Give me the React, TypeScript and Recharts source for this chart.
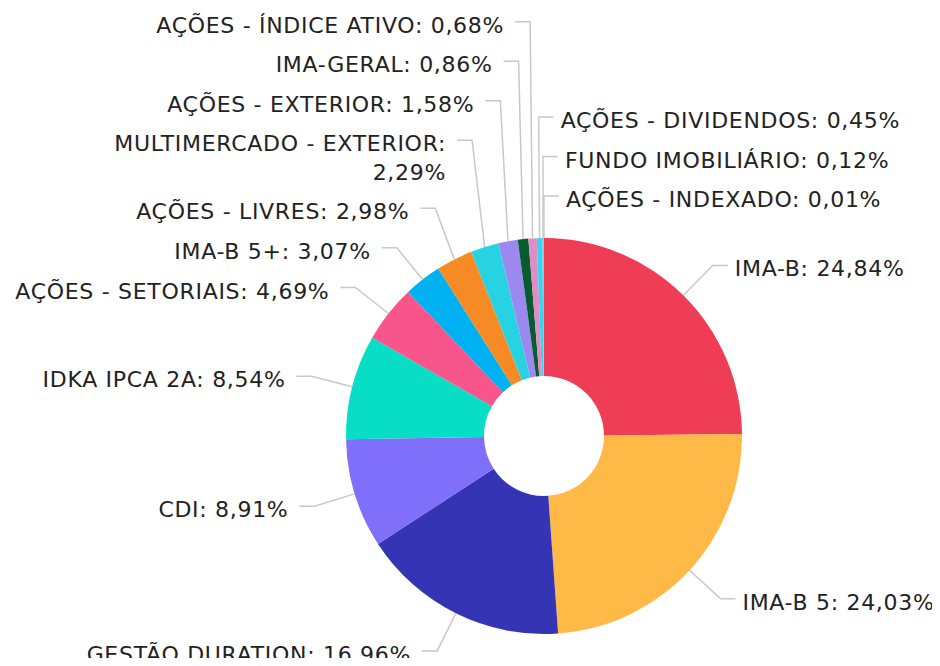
import React from 'react';
import { PieChart, Pie, Cell } from 'recharts';

// allocation by fund class, in percent
const categories = [
  'IMA-B',
  'IMA-B 5',
  'GESTÃO DURATION',
  'CDI',
  'IDKA IPCA 2A',
  'AÇÕES - SETORIAIS',
  'IMA-B 5+',
  'AÇÕES - LIVRES',
  'MULTIMERCADO - EXTERIOR',
  'AÇÕES - EXTERIOR',
  'IMA-GERAL',
  'AÇÕES - ÍNDICE ATIVO',
  'AÇÕES - DIVIDENDOS',
  'FUNDO IMOBILIÁRIO',
  'AÇÕES - INDEXADO',
];
const shares = [24.84, 24.03, 16.96, 8.91, 8.54, 4.69, 3.07, 2.98, 2.29, 1.58, 0.86, 0.68, 0.45, 0.12, 0.01];
const colors = [
  '#ee3d55', '#ffb946', '#3434b5', '#7f6ffa', '#08dec5', '#f7558b', '#00b1f1', '#f68b25',
  '#27d3e3', '#9c89ef', '#085c2f', '#e08dc4', '#34d5f0', '#5fc9f3', '#ffb946',
];

const rows = categories.map((name, i) => ({ name, value: shares[i] }));

const W = 924;
const H = 650;
const CX = 536;
const CY = 428;
const R_OUT = 198;
const R_IN = 60;
const LEN = 42; // radial leg of the label line
const LEN2 = 15; // horizontal leg
const FONT_SIZE = 22;
const LETTER = 0.7;
const LINE_H = 28.5;
const GAP = 39.5; // vertical room taken by one label line
const TOP = -6; // near the page top, in chart coordinates
const MAX_W = 380;
const RAD = Math.PI / 180;

const fmt = (v: number) => v.toFixed(2).replace('.', ',') + '%';

let ctx: CanvasRenderingContext2D | null = null;
const measure = (s: string) => {
  if (!ctx) {
    ctx = document.createElement('canvas').getContext('2d');
    if (ctx) ctx.font = `${FONT_SIZE}px "DejaVu Sans"`;
  }
  return ctx ? ctx.measureText(s).width + LETTER * s.length : s.length * FONT_SIZE * 0.62;
};

const wrap = (text: string) => {
  const words = text.split(' ');
  const lines: string[] = [];
  let cur = '';
  words.forEach((w) => {
    const next = cur ? cur + ' ' + w : w;
    if (cur && measure(next) > MAX_W) {
      lines.push(cur);
      cur = w;
    } else cur = next;
  });
  lines.push(cur);
  return lines;
};

type Lab = { theta: number; signed: number; side: number; lines: string[]; y: number };

// spread labels vertically per side so they don't overlap, pushing upward first
const layoutLabels = (): Lab[] => {
  const total = shares.reduce((a, b) => a + b, 0);
  let acc = 0;
  const labs: Lab[] = shares.map((v, i) => {
    const theta = ((acc + v / 2) / total) * 360;
    acc += v;
    const side = Math.sin(theta * RAD) > -0.03 ? 1 : -1;
    return {
      theta,
      signed: theta > 180 ? theta - 360 : theta,
      side,
      lines: wrap(`${categories[i]}: ${fmt(v)}`),
      y: CY - (R_OUT + LEN) * Math.cos(theta * RAD),
    };
  });
  [1, -1].forEach((side) => {
    const list = labs
      .filter((l) => l.side === side)
      .sort((a, b) => (side === 1 ? a.signed - b.signed : b.theta - a.theta));
    const below = (l: Lab) => GAP / 2 + (l.lines.length - 1) * LINE_H;
    for (let k = list.length - 2; k >= 0; k--) {
      list[k].y = Math.min(list[k].y, list[k + 1].y - below(list[k]) - GAP / 2);
    }
    if (list.length) list[0].y = Math.max(list[0].y, TOP + GAP / 2);
    for (let k = 1; k < list.length; k++) {
      list[k].y = Math.max(list[k].y, list[k - 1].y + below(list[k - 1]) + GAP / 2);
    }
  });
  return labs;
};

const labs = layoutLabels();

const renderLabel = (props: any) => {
  const i = props.index as number;
  const lab = labs[i];
  const cx = typeof props.cx === 'number' ? props.cx : CX;
  const cy = typeof props.cy === 'number' ? props.cy : CY;
  const mid = typeof props.midAngle === 'number' ? props.midAngle : 90 - lab.theta;
  const r = typeof props.outerRadius === 'number' ? props.outerRadius : R_OUT;
  const c = Math.cos(mid * RAD);
  const s = Math.sin(mid * RAD);
  const sx = cx + r * c;
  const sy = cy - r * s;
  const ex = cx + (r + LEN) * c;
  const hx = ex + lab.side * LEN2;
  const tx = hx + (lab.side === 1 ? 7 : -11);
  return (
    <g key={`lab-${i}`}>
      <polyline
        points={`${sx},${sy} ${ex},${lab.y} ${hx},${lab.y}`}
        fill="none"
        stroke="#c8c8c8"
        strokeWidth={1.5}
      />
      <text
        x={tx}
        y={lab.y + 11}
        textAnchor={lab.side === 1 ? 'start' : 'end'}
        fill="#222222"
        style={{ fontFamily: '"DejaVu Sans", sans-serif', fontSize: FONT_SIZE, letterSpacing: LETTER }}
      >
        {lab.lines.map((ln, k) => (
          <tspan key={k} x={tx} dy={k === 0 ? 0 : LINE_H}>
            {ln}
          </tspan>
        ))}
      </text>
    </g>
  );
};

export default function App() {
  return (
    <div style={{ width: W, height: H, background: '#ffffff' }}>
      <style>{'.recharts-surface { overflow: visible; }'}</style>
      <PieChart width={W} height={H} margin={{ top: 0, right: 0, bottom: 0, left: 0 }}>
        <Pie
          data={rows}
          dataKey="value"
          nameKey="name"
          cx={CX}
          cy={CY}
          innerRadius={R_IN}
          outerRadius={R_OUT}
          startAngle={90}
          endAngle={-270}
          stroke="none"
          label={renderLabel}
          labelLine={false}
          isAnimationActive={false}
        >
          {rows.map((d, i) => (
            <Cell key={d.name} fill={colors[i]} />
          ))}
        </Pie>
      </PieChart>
    </div>
  );
}
